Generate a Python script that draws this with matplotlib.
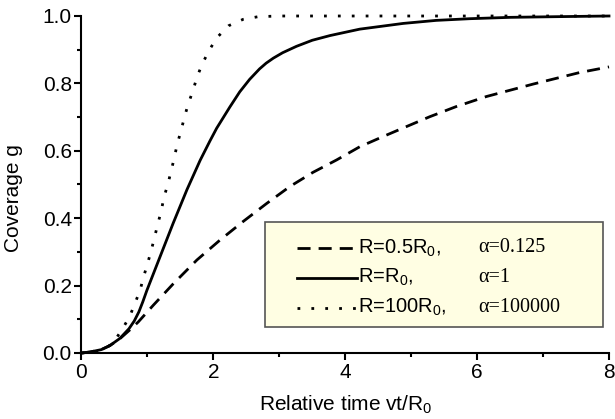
import numpy as np
import matplotlib
matplotlib.use("Agg")
import matplotlib.pyplot as plt
from matplotlib.patches import Rectangle

plt.rcParams["font.family"] = ["Liberation Sans", "DejaVu Sans"]
plt.rcParams["mathtext.fontset"] = "custom"
plt.rcParams["mathtext.rm"] = "Liberation Sans"
plt.rcParams["mathtext.it"] = "Liberation Sans"

# ============================================================
# DATA
# ============================================================
# R = 0.5 R0, alpha = 0.125 (dashed)
x_half = [0, 0.13, 0.30, 0.43, 0.58, 0.73, 0.86, 1.09, 1.39, 1.75, 2.10, 2.45, 2.81,
          3.16, 3.51, 3.87, 4.22, 4.57, 4.93, 5.28, 5.68, 6.14, 6.85, 7.55, 8.0]
y_half = [0, 0.003, 0.010, 0.022, 0.042, 0.068, 0.092, 0.142, 0.205, 0.276, 0.335, 0.390, 0.444,
          0.494, 0.536, 0.573, 0.612, 0.642, 0.672, 0.701, 0.731, 0.761, 0.798, 0.832, 0.849]

# R = R0, alpha = 1 (solid)
x_one = [0, 0.13, 0.30, 0.43, 0.58, 0.72, 0.80, 0.87, 0.93, 0.99, 1.04, 1.19, 1.39,
         1.60, 1.80, 1.95, 2.05, 2.25, 2.40, 2.55, 2.70, 2.80, 2.91, 3.05, 3.26, 3.50,
         3.77, 4.22, 4.88, 5.38, 5.89, 6.5, 7.2, 8.0]
y_one = [0, 0.003, 0.010, 0.022, 0.043, 0.072, 0.095, 0.122, 0.152, 0.185, 0.210, 0.285, 0.385,
         0.485, 0.572, 0.630, 0.667, 0.730, 0.775, 0.812, 0.843, 0.860, 0.875, 0.891, 0.910, 0.928,
         0.942, 0.961, 0.978, 0.987, 0.992, 0.996, 0.998, 1.0]

# R = 100 R0, alpha = 100000 (dotted)
x_big = [0, 0.2, 0.35, 0.48, 0.61, 0.73, 0.81, 0.89, 0.94, 1.00, 1.06, 1.11, 1.16, 1.21,
         1.25, 1.31, 1.36, 1.41, 1.45, 1.51, 1.56, 1.62, 1.69, 1.75, 1.83, 1.93, 2.05,
         2.23, 2.45, 2.68, 3.0, 8.0]
y_big = [0, 0.003, 0.012, 0.030, 0.068, 0.108, 0.147, 0.187, 0.225, 0.264, 0.306, 0.345, 0.385, 0.422,
         0.462, 0.501, 0.541, 0.581, 0.619, 0.660, 0.699, 0.740, 0.778, 0.818, 0.857, 0.896, 0.935,
         0.971, 0.990, 0.998, 1.0, 1.0]

r_labels = ["R=0.5R$_0$,", "R=R$_0$,", "R=100R$_0$,"]
a_labels = ["\u03b1=0.125", "\u03b1=1", "\u03b1=100000"]

styles = [(0, (4.7, 2.9)), "-", (0, (1, 4))]

# ============================================================
# PLOT
# ============================================================
fig = plt.figure(figsize=(6.15, 4.19), dpi=100)
ax = fig.add_axes([81.5 / 615, 1 - 353 / 419, 527.5 / 615, 337 / 419])

series = [(x_half, y_half), (x_one, y_one), (x_big, y_big)]
for (xs, ys), ls in zip(series, styles):
    ax.plot(xs, ys, color="black", lw=2.0, linestyle=ls, clip_on=False,
            solid_joinstyle="round")

ax.set_xlim(0, 8)
ax.set_ylim(0, 1.0)
ax.set_xticks([0, 2, 4, 6, 8])
ax.set_xticks([1, 3, 5, 7], minor=True)
ax.set_yticks([0, 0.2, 0.4, 0.6, 0.8, 1.0])
ax.set_yticks([0.1, 0.3, 0.5, 0.7, 0.9], minor=True)
ax.set_yticklabels(["0.0", "0.2", "0.4", "0.6", "0.8", "1.0"])

for s in ["top", "right"]:
    ax.spines[s].set_visible(False)
for s in ["left", "bottom"]:
    ax.spines[s].set_linewidth(1.5)

ax.tick_params(which="major", direction="out", length=5, width=1.5, labelsize=15, pad=2)
ax.tick_params(which="minor", direction="out", length=3, width=1.5)

ax.set_xlabel("Relative time vt/R$_0$", fontsize=15)
ax.set_ylabel("Coverage g", fontsize=15)
ax.xaxis.set_label_coords(0.5, -0.122)
ax.yaxis.set_label_coords(-0.11, 0.46)

# legend box drawn by hand
box = Rectangle((0.348, 0.077), 0.641, 0.312, transform=ax.transAxes,
                facecolor="#fffee3", edgecolor="#555555", lw=1.2, zorder=5)
ax.add_patch(box)
row_y = [0.312, 0.223, 0.134]
for yy, ls, rl, al in zip(row_y, styles, r_labels, a_labels):
    ax.plot([0.409, 0.522], [yy, yy], transform=ax.transAxes, color="black",
            lw=2.0, linestyle=ls, zorder=6)
    ax.text(0.524, yy, rl, transform=ax.transAxes, fontsize=14.5,
            va="center", ha="left", zorder=6)
    ax.text(0.752, yy, al, transform=ax.transAxes, fontsize=14.5,
            va="center", ha="left", family=["Liberation Serif", "DejaVu Serif"], zorder=6)

fig.savefig("out.png", dpi=100)
